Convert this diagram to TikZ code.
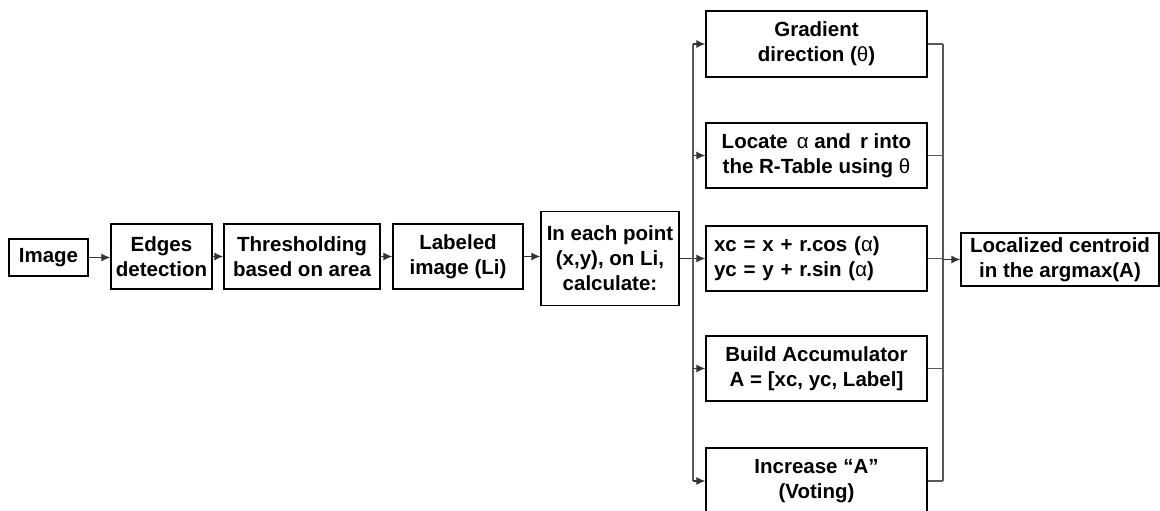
\documentclass[tikz,border=0pt]{standalone}
\usepackage{fontspec}
\setmainfont{Liberation Sans}
\usetikzlibrary{positioning}
\usetikzlibrary{arrows.meta}

\begin{document}
\begin{tikzpicture}[
    x=1pt, y=-1pt,
    box/.style={rectangle, draw=black, line width=1.3pt, inner sep=1pt, align=center,
        font=\fontsize{20.5}{25}\selectfont\bfseries},
    edge/.style={line width=1.2pt, black!80, -{Latex[length=9pt,width=8pt]}},
    link/.style={line width=1.2pt, black!65}
]
    \useasboundingbox (0,0) rectangle (1160,511);

    % --- Main chain (left to right):
    \node[box, minimum width=79pt, minimum height=37pt]  (img)  at (48.5, 257.5) {Image};
    \node[box, minimum width=101pt, minimum height=65pt] (edg)  at (161.5, 256.5) {Edges\\detection};
    \node[box, minimum width=156pt, minimum height=65pt] (thr)  at (302, 256.5) {Thresholding\\based on area};
    \node[box, minimum width=130pt, minimum height=65pt] (lab)  at (458, 256.5) {Labeled\\image (Li)};
    \node[box, minimum width=138pt, minimum height=94pt] (pnt)  at (610, 258.5) {In each point\\(x,y), on Li,\\calculate:};

    % --- Steps (column):
    \node[box, minimum width=221pt, minimum height=66pt] (grad) at (816.5, 44) {Gradient\\direction ({\mdseries θ})};
    \node[box, minimum width=221pt, minimum height=65pt] (loc)  at (816.5, 155.5) {Locate \,{\mdseries α} and \,r into\\the R-Table using {\mdseries θ}};
    \node[box, minimum width=221pt, minimum height=65pt, align=left, text width=205pt] (xc) at (816.5, 258.5)
        {xc = x + r.cos ({\mdseries α})\\yc = y + r.sin ({\mdseries α})};
    \node[box, minimum width=221pt, minimum height=65pt] (acc)  at (816.5, 368.5) {Build Accumulator\\A = [xc, yc, Label]};
    \node[box, minimum width=221pt, minimum height=66pt] (vote) at (816.5, 481) {Increase “A”\\(Voting)};

    % --- Result (right):
    \node[box, minimum width=198pt, minimum height=53pt] (cen)  at (1060, 259.5) {Localized centroid\\in the argmax(A)};

    \coordinate (busl) at (693, 0);
    \coordinate (busr) at (943, 0);

    \draw[edge] (img) -- (img -| edg.west);
    \draw[edge] (edg) -- (edg -| thr.west);
    \draw[edge] (thr) -- (thr -| lab.west);
    \draw[edge] (lab.east) -- (lab.east -| pnt.west);
    \draw[edge] (pnt.east) -- (xc.west);

    % left bus
    \draw[link] (grad.west -| busl) -- (vote.west -| busl);
    \foreach \s in {grad, loc, acc, vote}
        \draw[edge] (\s.west -| busl) -- (\s.west);

    % right bus
    \draw[link] (grad.east -| busr) -- (vote.east -| busr);
    \foreach \s in {grad, loc, xc, acc, vote}
        \draw[link] (\s.east) -- (\s.east -| busr);
    \draw[edge] (cen.west -| busr) -- (cen.west);

\end{tikzpicture}
\end{document}
